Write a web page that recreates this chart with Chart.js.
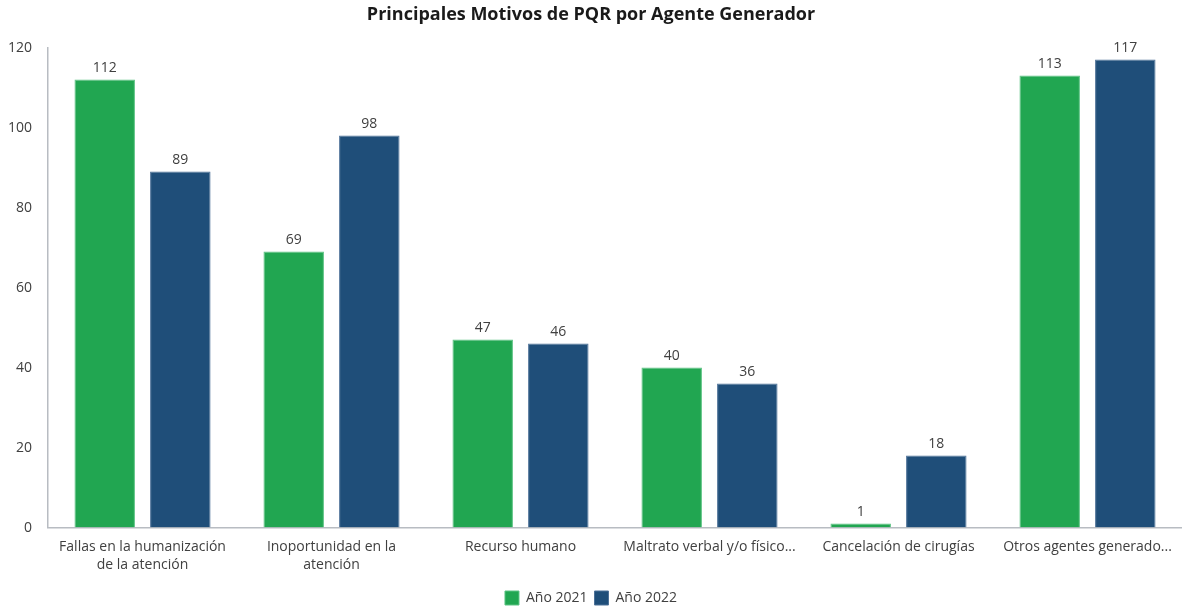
<!DOCTYPE html>
<html>
<head>
<meta charset="utf-8">
<script src="https://cdn.jsdelivr.net/npm/chart.js@4/dist/chart.umd.min.js"></script>
<style>
  html, body { margin: 0; padding: 0; background: #fff; }
  #wrap { width: 1182px; height: 606px; }
</style>
</head>
<body>
<div id="wrap"><canvas id="chart"></canvas></div>
<script>
const categories = [
  ["Fallas en la humanización", "de la atención"],
  ["Inoportunidad en la", "atención"],
  "Recurso humano",
  "Maltrato verbal y/o físico...",
  "Cancelación de cirugías",
  "Otros agentes generado..."
];
const values2021 = [112, 69, 47, 40, 1, 113];
const values2022 = [89, 98, 46, 36, 18, 117];
const yTicks = [0, 20, 40, 60, 80, 100, 120];

const fontFamily = "'Open Sans', 'Noto Sans', sans-serif";

// draws the value above each bar
const valueLabels = {
  id: "valueLabels",
  afterDatasetsDraw(chart) {
    const ctx = chart.ctx;
    ctx.save();
    ctx.font = "14px " + fontFamily;
    ctx.fillStyle = "#404040";
    ctx.textAlign = "center";
    ctx.textBaseline = "bottom";
    chart.data.datasets.forEach((ds, i) => {
      chart.getDatasetMeta(i).data.forEach((bar, j) => {
        ctx.fillText(ds.data[j], bar.x, bar.y - 5);
      });
    });
    ctx.restore();
  }
};

new Chart(document.getElementById("chart"), {
  type: "bar",
  data: {
    labels: categories,
    datasets: [
      {
        label: "Año 2021",
        data: values2021,
        backgroundColor: "#21a651",
        borderColor: "#5cc383",
        borderWidth: 1
      },
      {
        label: "Año 2022",
        data: values2022,
        backgroundColor: "#1f4e79",
        borderColor: "#4d7198",
        borderWidth: 1
      }
    ]
  },
  options: {
    responsive: true,
    maintainAspectRatio: false,
    animation: false,
    layout: { padding: { top: 0, right: 0, left: 0, bottom: -9 } },
    datasets: {
      bar: { categoryPercentage: 0.8, barPercentage: 0.8 }
    },
    scales: {
      x: {
        grid: { display: false },
        border: { display: true, color: "#b8bcc2", width: 1.5 },
        afterFit: (axis) => { axis.height += 8; },
        ticks: {
          color: "#404040",
          font: { family: fontFamily, size: 14, lineHeight: 1.3 },
          maxRotation: 0,
          autoSkip: false,
          padding: 2
        }
      },
      y: {
        min: 0,
        max: 120,
        afterBuildTicks: (axis) => { axis.ticks = yTicks.map(v => ({ value: v })); },
        grid: { display: false },
        border: { display: true, color: "#b8bcc2", width: 1.5 },
        ticks: {
          color: "#404040",
          font: { family: fontFamily, size: 14 },
          padding: 8
        }
      }
    },
    plugins: {
      title: {
        display: true,
        text: "Principales Motivos de PQR por Agente Generador",
        color: "#1a1a1a",
        font: { family: fontFamily, size: 18, weight: "bold" },
        padding: { top: 4, bottom: 22 }
      },
      legend: {
        position: "bottom",
        labels: {
          color: "#404040",
          font: { family: fontFamily, size: 14 },
          boxWidth: 14,
          boxHeight: 14,
          padding: 7
        }
      },
      tooltip: { enabled: false }
    }
  },
  plugins: [valueLabels]
});
</script>
</body>
</html>
